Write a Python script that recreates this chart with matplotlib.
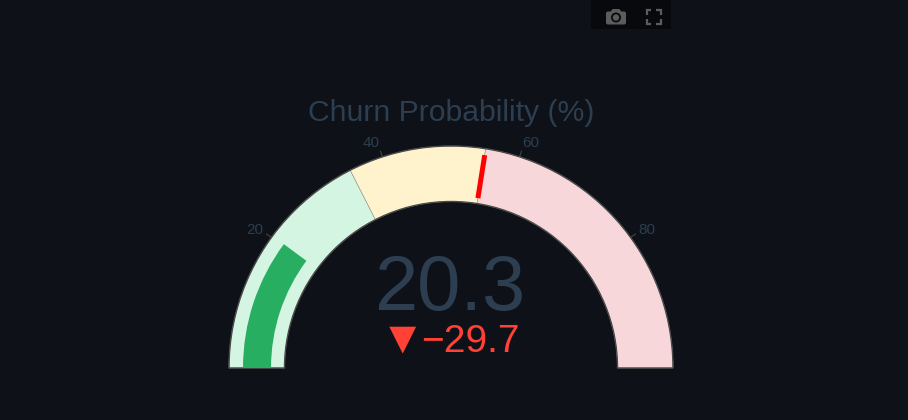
import numpy as np
import matplotlib
matplotlib.use("Agg")
import matplotlib.pyplot as plt
from matplotlib.patches import Wedge, Rectangle, Circle, FancyBboxPatch, Polygon

plt.rcParams['font.family'] = ['Liberation Sans', 'DejaVu Sans']

# chart values
axis_min = 0
axis_max = 100
value = 20.3
reference = 50
threshold = 55
tick_values = [20, 40, 60, 80]
step_edges = [0, 35, 55, 100]
step_colors = ['#d5f5e3', '#fff3cd', '#f8d7da']
title = 'Churn Probability (%)'

bg = '#0e1117'
text_col = '#2c3e50'

R_OUT = 222
R_IN = 166.5


def val2ang(v):
    return 180 - 180 * (v - axis_min) / (axis_max - axis_min)


def polar(v, r):
    a = np.radians(val2ang(v))
    return r * np.cos(a), r * np.sin(a)


fig = plt.figure(figsize=(9.08, 4.2), dpi=100, facecolor=bg)
ax = fig.add_axes([0, 0, 1, 1])
# one data unit = one pixel, gauge centre at the origin
ax.set_xlim(-451, 457)
ax.set_ylim(-52, 368)
ax.axis('off')

# steps
for i in range(len(step_colors)):
    ax.add_patch(Wedge((0, 0), R_OUT, val2ang(step_edges[i + 1]), val2ang(step_edges[i]),
                       width=R_OUT - R_IN, fc=step_colors[i], ec='#9a9a9a', lw=0.4, zorder=2))
# border
ax.add_patch(Wedge((0, 0), R_OUT, 0, 180, width=R_OUT - R_IN, fc='none', ec='#4a4a4a', lw=1, zorder=3))

# bar
ax.add_patch(Wedge((0, 0), 208, val2ang(value), val2ang(axis_min), width=28,
                   fc='#27ae60', ec='none', zorder=4))

# threshold
x0, y0 = polar(threshold, 172)
x1, y1 = polar(threshold, 215.5)
ax.plot([x0, x1], [y0, y1], color='#ff0000', lw=3.6, solid_capstyle='butt', zorder=5)

# ticks, labels sit a bit further out sideways near the top
label_shift = {20: -2, 40: -6, 60: 6, 80: 2}
for t in tick_values:
    xa, ya = polar(t, R_OUT)
    xb, yb = polar(t, R_OUT + 6)
    ax.plot([xa, xb], [ya, yb], color='#444444', lw=0.8, zorder=1)
    xl, yl = polar(t, 240)
    ax.text(xl + label_shift[t], yl - 3.5, str(t), color=text_col, fontsize=11, ha='center', va='center')

ax.text(0, 255, title, color=text_col, fontsize=21.7, ha='center', va='center')
ax.text(-1, 58, '%.1f' % value, color=text_col, fontsize=56, ha='center', va='baseline')

delta = value - reference
ax.text(68.5, 16, '\u2212%.1f' % abs(delta), color='#ff4136', fontsize=28, ha='right', va='baseline')
ax.text(-48.5, 16, '\u25bc', color='#ff4136', fontsize=33, ha='center', va='baseline')

# modebar (pixel positions, top left origin)
def px(x, y):
    return x - 451, 368 - y


ax.add_patch(Rectangle(px(591, 29), 80, 29, fc='#08090c', ec='none', zorder=6))
icon = '#5c5c5c'
ax.add_patch(FancyBboxPatch(px(606, 24.5), 20, 13, boxstyle='round,pad=0,rounding_size=2',
                            fc=icon, ec='none', zorder=7))
ax.add_patch(Polygon([px(610.5, 12), px(612.5, 9), px(619.5, 9), px(621.5, 12)], fc=icon, ec='none', zorder=7))
ax.add_patch(Circle(px(616, 17.5), 5, fc='#08090c', ec='none', zorder=8))
ax.add_patch(Circle(px(616, 17.5), 3.2, fc=icon, ec='none', zorder=9))
for cx, cy, sx, sy in [(646.5, 10, 1, 1), (660.5, 10, -1, 1), (646.5, 23.5, 1, -1), (660.5, 23.5, -1, -1)]:
    xs = [cx + 4.5 * sx, cx, cx]
    ys = [cy, cy, cy + 4.5 * sy]
    pts = [px(a, b) for a, b in zip(xs, ys)]
    ax.plot([p[0] for p in pts], [p[1] for p in pts], color=icon, lw=1.6,
            solid_joinstyle='miter', solid_capstyle='butt', zorder=7)

fig.savefig('out.png', dpi=100, facecolor=bg)
